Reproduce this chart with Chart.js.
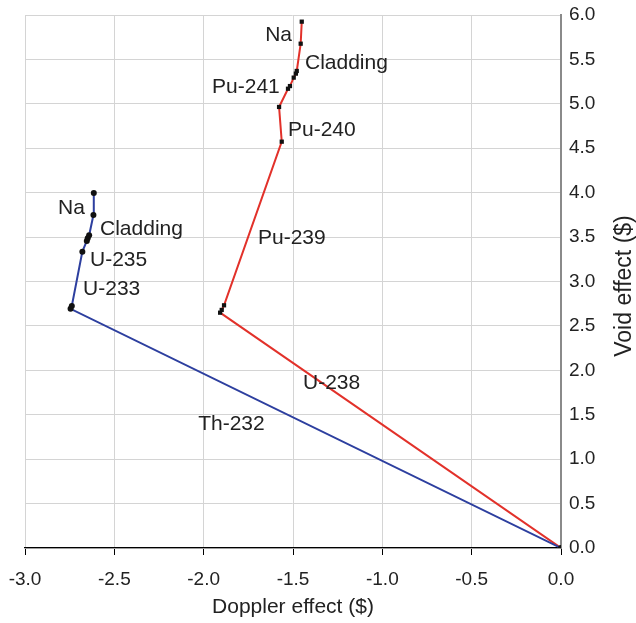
<!DOCTYPE html>
<html>
<head>
<meta charset="utf-8">
<script src="https://cdn.jsdelivr.net/npm/chart.js@4"></script>
<style>
  html, body { margin: 0; padding: 0; background: #fff; }
  #wrap { width: 636px; height: 623px; }
</style>
</head>
<body>
<div id="wrap"><canvas id="voidChart" width="636" height="623"></canvas></div>
<script>
// Pu-fuelled core (red), cumulative Doppler / void effect
const puDoppler = [0.0, -1.908, -1.899, -1.886, -1.563, -1.578, -1.528, -1.517, -1.496, -1.484, -1.479, -1.457, -1.451];
const puVoid    = [0.0,  2.649,  2.680,  2.732,  4.574,  4.965,  5.170,  5.200,  5.295,  5.340,  5.370,  5.677,  5.925];

// Th/U-233 core (blue)
const thDoppler = [0.0, -2.745, -2.738, -2.679, -2.654, -2.649, -2.641, -2.617, -2.615];
const thVoid    = [0.0,  2.692,  2.724,  3.336,  3.456,  3.486,  3.520,  3.749,  3.996];

// text labels: [text, doppler, void] (left edge, vertical middle)
const labels = [
  ["Na", -1.656, 5.775],
  ["Cladding", -1.433, 5.46],
  ["Pu-241", -1.953, 5.19],
  ["Pu-240", -1.528, 4.705],
  ["Pu-239", -1.696, 3.49],
  ["U-238", -1.444, 1.857],
  ["Th-232", -2.031, 1.396],
  ["Na", -2.815, 3.827],
  ["Cladding", -2.580, 3.591],
  ["U-235", -2.636, 3.242],
  ["U-233", -2.675, 2.916]
];

const xTitle = "Doppler effect ($)";
const yTitle = "Void effect ($)";

const FONT = "'Liberation Sans', Arial, Helvetica, sans-serif";

const labelPlugin = {
  id: "pointLabels",
  afterDatasetsDraw(chart) {
    const ctx = chart.ctx;
    const xs = chart.scales.x, ys = chart.scales.y;
    ctx.save();
    ctx.font = "21px " + FONT;
    ctx.fillStyle = "#222";
    ctx.textAlign = "left";
    ctx.textBaseline = "middle";
    labels.forEach(l => {
      ctx.fillText(l[0], xs.getPixelForValue(l[1]), ys.getPixelForValue(l[2]));
    });

    // axis titles
    ctx.textAlign = "center";
    ctx.fillText(xTitle, (chart.chartArea.left + chart.chartArea.right) / 2, 607);
    ctx.font = "23px " + FONT;
    ctx.translate(625, 286);
    ctx.rotate(-Math.PI / 2);
    ctx.fillText(yTitle, 0, 0);
    ctx.restore();
  }
};

const toPts = (xs, ys) => xs.map((x, i) => ({ x: x, y: ys[i] }));

new Chart(document.getElementById("voidChart"), {
  type: "scatter",
  data: {
    datasets: [
      {
        label: "Th",
        data: toPts(thDoppler, thVoid),
        showLine: true,
        borderColor: "#2d3f9f",
        borderWidth: 2,
        pointStyle: "circle",
        pointRadius: 3,
        pointBackgroundColor: "#111",
        pointBorderColor: "#111",
        pointBorderWidth: 0
      },
      {
        label: "Pu",
        data: toPts(puDoppler, puVoid),
        showLine: true,
        borderColor: "#e2312a",
        borderWidth: 2,
        pointStyle: "rect",
        pointRadius: 3,
        pointBackgroundColor: "#111",
        pointBorderColor: "#111",
        pointBorderWidth: 0
      }
    ]
  },
  options: {
    responsive: false,
    animation: false,
    layout: { padding: { left: 25, right: 0, top: 15, bottom: 0 } },
    plugins: { legend: { display: false }, tooltip: { enabled: false } },
    scales: {
      x: {
        type: "linear",
        min: -3, max: 0,
        afterFit: s => { s.height = 75; s.paddingLeft = 0; s.paddingRight = 0; },
        ticks: {
          stepSize: 0.5,
          color: "#222",
          font: { family: FONT, size: 19 },
          padding: 13,
          maxRotation: 0,
          callback: v => v.toFixed(1)
        },
        grid: { color: "#d4d4d4", tickColor: "#000", tickLength: 7, lineWidth: 1 },
        border: { color: "#000", width: 1.2 }
      },
      y: {
        type: "linear",
        position: "right",
        min: 0, max: 6,
        afterFit: s => { s.width = 75; s.paddingTop = 0; s.paddingBottom = 0; },
        ticks: {
          stepSize: 0.5,
          color: "#222",
          font: { family: FONT, size: 19 },
          padding: 8,
          callback: v => v.toFixed(1)
        },
        grid: { color: "#d4d4d4", drawTicks: false },
        border: { color: "#8a8a8a", width: 2 }
      }
    }
  },
  plugins: [labelPlugin]
});
</script>
</body>
</html>
